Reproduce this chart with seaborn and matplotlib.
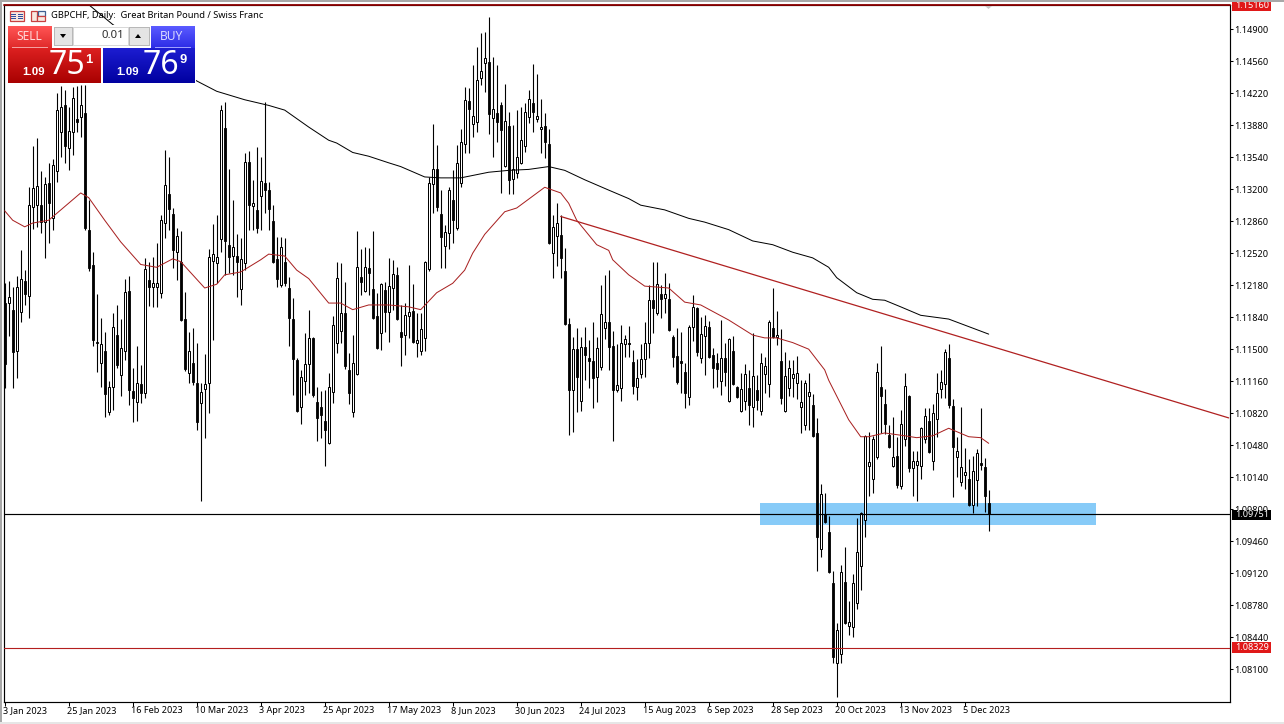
import numpy as np
import pandas as pd
import matplotlib
matplotlib.use("Agg")
import matplotlib.pyplot as plt
import seaborn as sns
from matplotlib.patches import Rectangle, Polygon
from matplotlib.transforms import Affine2D, ScaledTranslation

# ---------- data (prices x 10000) ----------
highs = [11220,11222,11216,11228,11255,11234,11322,11366,11374,11339,
 11333,11348,11352,11422,11430,11425,11407,11429,11430,11431,
 11431,11308,11253,11209,11183,11168,11116,11188,11197,11182,
 11225,11228,11130,11153,11133,11247,11243,11248,11263,11293,
 11362,11354,11300,11279,11276,11211,11168,11172,11157,11114,
 11145,11256,11283,11293,11409,11413,11341,11308,11272,11268,
 11358,11361,11330,11365,11354,11413,11328,11303,11269,11269,
 11268,11227,11204,11141,11128,11167,11192,11163,11110,11106,
 11107,11125,11185,11243,11242,11221,11146,11165,11276,11256,
 11259,11257,11276,11210,11220,11221,11247,11245,11237,11197,
 11199,11239,11219,11188,11188,11244,11333,11389,11367,11319,
 11282,11322,11340,11367,11384,11429,11427,11452,11471,11486,
 11487,11503,11460,11452,11413,11432,11402,11388,11404,11407,
 11412,11425,11453,11442,11416,11401,11384,11293,11305,11293,
 11257,11183,11163,11172,11163,11174,11160,11179,11163,11218,
 11229,11234,11169,11155,11176,11165,11175,11149,11140,11155,
 11179,11218,11243,11243,11218,11231,11220,11165,11172,11168,
 11135,11176,11208,11195,11184,11186,11180,11151,11146,11181,
 11157,11162,11164,11111,11125,11134,11128,11167,11123,11146,
 11142,11181,11215,11191,11171,11147,11138,11138,11143,11117,
 11117,11125,11102,11077,11007,10997,10973,10914,10859,10921,
 10940,10883,10911,10971,10977,11059,11062,11058,11135,11153,
 11108,11069,11078,11057,11085,11125,11101,11042,11042,11067,
 11087,11087,11092,11125,11128,11150,11155,11097,11057,11089,
 11045,11033,11036,11044,11087,11034,11000]
body_tops = [11199,11205,11192,11216,11225,11222,11303,11321,11323,11303,
 11325,11327,11346,11404,11407,11409,11382,11417,11395,11409,
 11401,11277,11239,11158,11155,11148,11110,11174,11165,11151,
 11211,11212,11106,11114,11113,11235,11223,11220,11220,11287,
 11324,11315,11294,11270,11243,11182,11148,11135,11114,11104,
 11113,11248,11251,11248,11404,11385,11261,11259,11249,11246,
 11349,11349,11305,11298,11329,11327,11319,11286,11246,11259,
 11243,11215,11182,11138,11120,11134,11162,11162,11094,11089,
 11074,11110,11176,11226,11188,11188,11128,11135,11237,11227,
 11237,11236,11214,11185,11219,11213,11217,11230,11229,11168,
 11186,11189,11191,11160,11171,11243,11327,11341,11341,11294,
 11274,11319,11308,11348,11370,11415,11414,11398,11436,11446,
 11459,11455,11405,11401,11409,11392,11387,11341,11354,11372,
 11402,11416,11412,11398,11386,11387,11368,11280,11284,11271,
 11233,11177,11150,11150,11152,11152,11141,11137,11151,11187,
 11179,11179,11153,11112,11157,11161,11157,11136,11119,11140,
 11157,11202,11202,11219,11209,11209,11203,11163,11143,11137,
 11126,11174,11195,11194,11166,11175,11174,11144,11135,11141,
 11141,11161,11148,11110,11108,11124,11109,11121,11107,11135,
 11132,11179,11172,11165,11137,11121,11130,11124,11125,11094,
 11114,11104,11091,11061,10996,10975,10956,10902,10852,10913,
 10903,10860,10902,10934,10976,11058,11030,11055,11126,11110,
 11092,11059,11035,11036,11070,11111,11100,11031,11031,11066,
 11079,11074,11082,11103,11115,11147,11141,11090,11042,11025,
 11019,11012,11021,11040,11029,11025,10987]
body_bottoms = [11134,11199,11147,11148,11189,11209,11206,11301,11303,11285,
 11285,11305,11289,11339,11381,11366,11364,11381,11391,11397,
 11279,11236,11160,11157,11135,11102,11083,11110,11133,11123,
 11148,11107,11098,11094,11103,11103,11216,11216,11216,11210,
 11284,11299,11255,11253,11181,11129,11125,11115,11073,11093,
 11108,11114,11244,11242,11267,11265,11248,11249,11243,11214,
 11242,11303,11302,11279,11313,11319,11299,11243,11225,11218,
 11220,11183,11140,11084,11089,11116,11134,11101,11077,11080,
 11064,11050,11104,11157,11169,11132,11103,11083,11124,11221,
 11212,11231,11183,11151,11167,11189,11189,11215,11182,11163,
 11165,11185,11158,11157,11148,11162,11235,11325,11301,11269,
 11260,11273,11287,11279,11327,11368,11405,11389,11391,11438,
 11454,11400,11396,11391,11383,11345,11330,11331,11337,11348,
 11366,11397,11402,11395,11384,11370,11263,11252,11270,11247,
 11177,11107,11107,11120,11095,11144,11137,11119,11120,11131,
 11172,11152,11107,11107,11109,11155,11155,11111,11110,11124,
 11140,11157,11194,11188,11203,11204,11170,11142,11115,11135,
 11103,11099,11174,11147,11141,11164,11142,11130,11129,11116,
 11126,11095,11113,11099,11084,11095,11091,11089,11096,11084,
 11124,11113,11163,11163,11098,11084,11109,11119,11114,11089,
 11069,11100,11058,10950,10938,10966,10913,10823,10817,10826,
 10859,10856,10855,10880,10920,10968,11026,11012,11035,11100,
 11070,11046,11026,11006,11005,11055,11024,11024,11027,11026,
 11055,11041,11031,11076,11108,11113,11091,11046,11035,11009,
 11016,10984,10984,11011,11027,10994,10975]
lows = [11109,11164,11109,11119,11179,11197,11183,11278,11280,11273,
 11247,11263,11277,11328,11354,11348,11340,11356,11381,11375,
 11277,11233,11153,11126,11110,11078,11080,11085,11130,11100,
 11138,11091,11073,11074,11093,11098,11196,11195,11195,11204,
 11268,11277,11236,11223,11180,11127,11114,11112,11064,10989,
 11056,11082,11160,11220,11253,11229,11231,11229,11205,11197,
 11234,11277,11277,11273,11277,11295,11277,11242,11216,11216,
 11217,11153,11101,11083,11070,11101,11103,11099,11052,11056,
 11026,11049,11093,11146,11157,11129,11092,11078,11123,11208,
 11211,11208,11182,11150,11149,11168,11158,11192,11181,11132,
 11144,11162,11157,11142,11144,11148,11233,11295,11297,11236,
 11236,11256,11263,11277,11322,11358,11358,11375,11381,11431,
 11423,11379,11354,11370,11316,11344,11315,11315,11332,11347,
 11359,11390,11381,11391,11358,11353,11262,11226,11238,11226,
 11176,11059,11062,11083,11084,11117,11109,11087,11094,11128,
 11161,11128,11052,11104,11095,11142,11142,11102,11096,11119,
 11120,11141,11167,11186,11183,11188,11169,11131,11113,11103,
 11087,11091,11159,11143,11135,11123,11141,11109,11110,11101,
 11111,11094,11112,11098,11083,11085,11069,11067,11085,11080,
 11103,11099,11162,11154,11092,11083,11100,11099,11097,11061,
 11064,11064,11057,10914,10929,10965,10912,10817,10781,10817,
 10858,10846,10844,10874,10894,10950,10994,10997,11033,11061,
 11060,11045,11025,11002,11001,11047,11019,10994,10989,11012,
 11050,11040,11022,11057,11098,11098,11087,10993,11014,11005,
 11001,10983,10976,10983,11022,10977,10957]
# one letter per candle: u = close above open (hollow), d = close below open (filled)
candle_dir = ("d u d u u d u u u d  u d u u u d u u d u  d d d d u d u u d u "
              "u d d u d u d u u u  u d d u d d u d d u  u u u u u d d u d u "
              "u d u d u d d d d u  d d d d u u u d d d  d u u u u d d u u d "
              "u d d d u d u u d d  u u d u u u u u d d  u u d u u u d u u u "
              "u d u d d u d u u u  u u d u u d d u u d  d d u d u d d d u u "
              "u d d u u u u d u u  u u d u d u d d d d  d u u d u u d d d u "
              "d u d d u u d u d u  u u d u d u u u u u  u u d d u d d d u u "
              "d u u u u u u u u d  d d u d u u d u u u  u d u u u u d d u u "
              "u d u u d d d").split()

ma50_bar = [0,2,5,7,11,19,21,25,29,34,38,42,44,50,53,55,59,64,66,70,73,76,81,84,87,91,96,101,104,108,
            112,115,117,120,125,128,135,139,141,143,148,151,152,156,160,166,170,174,181,187,190,193,197,201,205,206,
            211,214,216,220,225,228,232,236,241,244,246]
ma50_val = [11297,11287,11280,11284,11287,11316,11311,11287,11264,11240,11237,11246,11243,11215,11219,11229,
            11232,11245,11251,11249,11234,11225,11199,11199,11192,11197,11197,11195,11192,11210,
            11220,11234,11252,11272,11296,11300,11322,11316,11305,11287,11261,11255,11245,11229,11217,11215,
            11200,11197,11181,11165,11162,11162,11157,11150,11128,11117,11075,11057,11057,11061,11058,11056,11058,11066,
            11057,11056,11050]
ma200_bar = [21,27,48,53,60,66,70,76,81,83,87,91,96,99,105,109,114,121,126,131,136,140,145,151,156,159,165,171,
             175,181,187,192,197,202,206,208,213,217,220,224,229,236,246]
ma200_val = [11516,11495,11435,11424,11415,11409,11404,11386,11372,11369,11359,11355,11348,11344,11333,11332,
             11332,11338,11340,11341,11344,11340,11330,11319,11310,11303,11298,11289,11285,11277,11265,11261,
             11253,11247,11237,11226,11210,11203,11202,11195,11186,11182,11166]
trend_bar = [139, 306]
trend_val = [11291, 11077]
zone_bars = [188.8, 272.8]
zone_vals = [10963, 10987]

date_labels = ["3 Jan 2023","25 Jan 2023","16 Feb 2023","10 Mar 2023","3 Apr 2023","25 Apr 2023",
               "17 May 2023","8 Jun 2023","30 Jun 2023","24 Jul 2023","15 Aug 2023","6 Sep 2023",
               "28 Sep 2023","20 Oct 2023","13 Nov 2023","5 Dec 2023"]
date_bars = [0,16,32,48,64,80,96,112,128,144,160,176,192,208,224,240]
price_ticks = [1.08100,1.08440,1.08780,1.09120,1.09460,1.09800,1.10140,1.10480,1.10820,1.11160,1.11500,
               1.11840,1.12180,1.12520,1.12860,1.13200,1.13540,1.13880,1.14220,1.14560,1.14900]
last_price = 1.09751
level_low = 1.08329
level_high = 1.15160
# -------------------------------------------------------------------

W, H = 1284, 724
FONT = "Noto Sans"
sns.set_theme(style="white")
plt.rcParams["font.family"] = [FONT, "DejaVu Sans"]

df = pd.DataFrame({"bar": np.arange(len(highs)), "high": np.array(highs)/1e4, "low": np.array(lows)/1e4,
                   "top": np.array(body_tops)/1e4, "bottom": np.array(body_bottoms)/1e4, "dir": candle_dir})
ma50 = pd.DataFrame({"bar": ma50_bar, "price": np.array(ma50_val)/1e4})
ma200 = pd.DataFrame({"bar": ma200_bar, "price": np.array(ma200_val)/1e4})
trend = pd.DataFrame({"bar": trend_bar, "price": np.array(trend_val)/1e4})

fig = plt.figure(figsize=(W/100, H/100), dpi=100, facecolor="white")
ax = fig.add_axes([4/W, 1-701.5/H, (1229.5-4)/W, (701.5-4.5)/H], facecolor="white")
ax.set_xlim(-0.175, 306.2)
ax.set_ylim(1.07757, 1.15162)

ax.add_patch(Rectangle((zone_bars[0], zone_vals[0]/1e4), zone_bars[1]-zone_bars[0],
                       (zone_vals[1]-zone_vals[0])/1e4, facecolor="#87CBF8", edgecolor="none", zorder=1))
ax.vlines(df["bar"], df["low"], df["high"], color="black", linewidth=0.8, zorder=2)
up = df[df["dir"] == "u"]
dn = df[df["dir"] == "d"]
ax.bar(up["bar"], up["top"]-up["bottom"], bottom=up["bottom"], width=0.6,
       facecolor="white", edgecolor="black", linewidth=0.72, zorder=3)
ax.bar(dn["bar"], dn["top"]-dn["bottom"], bottom=dn["bottom"], width=0.5,
       facecolor="black", edgecolor="black", linewidth=0.6, zorder=3)

sns.lineplot(data=ma50, x="bar", y="price", estimator=None, sort=False, color="#A82020", linewidth=0.72, ax=ax, zorder=4)
sns.lineplot(data=ma200, x="bar", y="price", estimator=None, sort=False, color="black", linewidth=0.72, ax=ax, zorder=4)
sns.lineplot(data=trend, x="bar", y="price", estimator=None, sort=False, color="#B02020", linewidth=0.9, ax=ax, zorder=4)

ax.axhline(last_price, color="black", linewidth=0.85, zorder=4)
ax.axhline(level_low, color="#B41E1E", linewidth=0.8, zorder=4)
ax.axhline(level_high, color="#8B0000", linewidth=1.3, zorder=4, clip_on=False)

ax.set_xlabel("")
ax.set_ylabel("")
ax.yaxis.tick_right()
ax.set_yticks(price_ticks)
ax.set_yticklabels([f"{t:.5f}" for t in price_ticks])
ax.set_xticks(date_bars)
ax.set_xticklabels(date_labels, ha="left")
ax.tick_params(axis="y", length=2.5, width=0.75, pad=1.2, labelsize=6.55, colors="black", right=True, left=False)
ax.tick_params(axis="x", length=2.8, width=0.75, pad=0.6, labelsize=6.55, colors="black", bottom=True)
shift = ScaledTranslation(-1.6/100, 0, fig.dpi_scale_trans)
for lab in ax.get_xticklabels():
    lab.set_transform(lab.get_transform() + shift)
for s in ax.spines.values():
    s.set_color("black")
    s.set_linewidth(0.85)

# screen-space helper: artists positioned in image pixels (origin top-left)
px = Affine2D().scale(1/W, -1/H).translate(0, 1) + fig.transFigure

def box(x0, y0, x1, y1, color, z=6):
    fig.add_artist(Rectangle((x0, y0), x1-x0, y1-y0, transform=px, facecolor=color, edgecolor="none", zorder=z))

def grad(x0, y0, x1, y1, c0, c1, z=6):
    c0 = np.array(matplotlib.colors.to_rgb(c0)); c1 = np.array(matplotlib.colors.to_rgb(c1))
    n = int(y1-y0)
    for k in range(n):
        box(x0, y0+k, x1, y0+k+1.2, tuple(c0+(c1-c0)*k/max(n-1, 1)), z)

def label(x, y, s, size, color="black", ha="left", weight="normal", z=7, family=FONT):
    fig.text(x, y, s, transform=px, fontsize=size*0.72, color=color, ha=ha, va="center",
             fontweight=weight, zorder=z, family=[family, "DejaVu Sans"])

# window frame
box(0, 0, W, 2, "#A8A8A8", 8)
box(0, 0, 2, H, "#A8A8A8", 8)
box(0, 722, W, H, "#E6E6E6", 8)

# one-click trading panel
box(7, 25, 196, 84, "white", 5)
grad(8, 26, 52, 48, "#FF5454", "#E02A2A")
grad(151, 26, 195, 48, "#5A5AFF", "#2C2CE6")
grad(8, 48, 101, 83, "#DC2020", "#A80000")
grad(103, 48, 195, 83, "#1C1CD0", "#0000A0")
box(12, 47, 48, 48, "#F4A0A0", 7)
box(155, 47, 191, 48, "#A0A0FF", 7)
box(54, 27, 73, 46, "#B8B8B8"); box(55, 28, 72, 45, "#E4E4E4")
box(73, 27, 129, 46, "#D8D8D8"); box(74, 28, 128, 45, "white")
box(129, 27, 150, 46, "#B8B8B8"); box(130, 28, 149, 45, "#E4E4E4")
fig.add_artist(Polygon([(60, 34), (66, 34), (63, 38)], closed=True, transform=px, facecolor="black", edgecolor="none", zorder=7))
fig.add_artist(Polygon([(135, 38), (141, 38), (138, 34)], closed=True, transform=px, facecolor="black", edgecolor="none", zorder=7))
label(29, 36, "SELL", 12, "#FFD8D8", "center")
label(172, 36, "BUY", 12, "#D8D8FF", "center")
label(124, 36, "0.01", 11.5, "#303030", "right")
label(22, 72, "1.09", 11.5, "white", "left", "bold", family="Liberation Sans")
label(49, 66, "75", 32, "white")
label(85, 60, "1", 13, "white", "left", "bold", family="Liberation Sans")
label(116, 72, "1.09", 11.5, "white", "left", "bold", family="Liberation Sans")
label(143, 66, "76", 32, "white")
label(180, 60, "9", 13, "white", "left", "bold", family="Liberation Sans")

# title row with toolbar glyphs
for x0, w in [(9.5, 14), (30.5, 6)]:
    fig.add_artist(Rectangle((x0, 10.5), w, 10, transform=px, facecolor="#F8E8E0", edgecolor="#C84040", linewidth=0.9, zorder=7))
for yy in (13.5, 15.8, 18.1):
    box(11, yy, 16, yy+1, "#3050A0", 8)
    box(18, yy, 23, yy+1, "#3050A0", 8)
fig.add_artist(Rectangle((37.5, 10.5), 7, 5, transform=px, facecolor="#F0F4FA", edgecolor="#406090", linewidth=0.9, zorder=7))
fig.add_artist(Rectangle((36.5, 15.5), 8, 5, transform=px, facecolor="#F8E8E0", edgecolor="#C84040", linewidth=0.9, zorder=7))
label(51, 16, "GBPCHF, Daily:  Great Britan Pound / Swiss Franc", 9.3)

# price tags on the axis
for y0, y1, text, col in [(0, 10.5, f"{level_high:.5f}", "#E01818"),
                          (509.5, 520, f"{last_price:.5f}", "black"),
                          (642, 653, f"{level_low:.5f}", "#E01818")]:
    box(1232, y0, 1271, y1, col)
    label(1235, (y0+y1)/2, text, 9.1, "white")

# small grey marker at the top of the chart
fig.add_artist(Polygon([(985, 6), (992, 6), (988.5, 9)], closed=True, transform=px, facecolor="#C8C8C8", edgecolor="none", zorder=7))

fig.savefig("out.png", dpi=100)
